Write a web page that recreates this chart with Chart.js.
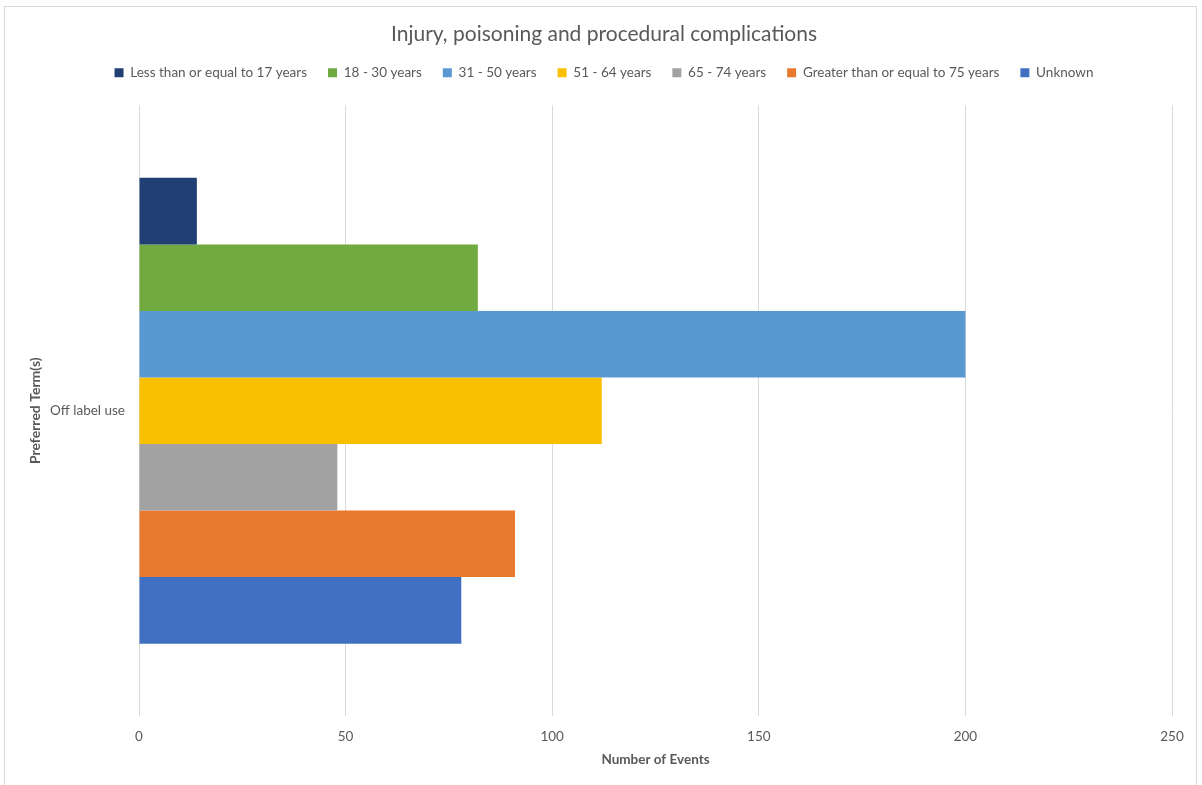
<!DOCTYPE html>
<html>
<head>
<meta charset="utf-8">
<script src="https://cdn.jsdelivr.net/npm/chart.js@4/dist/chart.umd.min.js"></script>
<style>
  html, body { margin: 0; padding: 0; background: #fff; }
  #wrap { position: relative; width: 1202px; height: 785px; overflow: hidden; }
  #frame { position: absolute; left: 4px; top: 6px; width: 1193px; height: 800px; border: 1px solid #d9d9d9; box-sizing: border-box; }
  #myChart { position: absolute; left: 0; top: 0; }
</style>
</head>
<body>
<div id="wrap">
  <div id="frame"></div>
  <canvas id="myChart" width="1202" height="785"></canvas>
</div>
<script>
const categories = ["Off label use"];
const ageGroups = [
  "Less than or equal to 17 years",
  "18 - 30 years",
  "31 - 50 years",
  "51 - 64 years",
  "65 - 74 years",
  "Greater than or equal to 75 years",
  "Unknown"
];
const eventCounts = [14, 82, 200, 112, 48, 91, 78];
const colours = ["#213f73", "#70aa40", "#5a98d2", "#f8c000", "#a2a2a2", "#e8792f", "#4170c2"];
const xTicks = [0, 50, 100, 150, 200, 250];

const fontFam = "Lato, 'Liberation Sans', sans-serif";
const textGrey = "#595959";

const datasets = ageGroups.map((name, i) => {
  return {
    label: name,
    data: [eventCounts[i]],
    backgroundColor: colours[i],
    borderWidth: 0,
    categoryPercentage: 0.763,
    barPercentage: 1
  }
})

// push the plot area down a bit below the legend, like the excel original
const legendGap = {
  id: 'legendGap',
  beforeUpdate(chart) {
    const lg = chart.legend;
    if (lg && !lg._gapDone) {
      const fit = lg.fit;
      lg.fit = function () {
        fit.call(this);
        this.height += 16;
      }
      lg._gapDone = true;
    }
  }
}

new Chart(document.getElementById('myChart'), {
  type: 'bar',
  data: {
    labels: categories,
    datasets: datasets
  },
  plugins: [legendGap],
  options: {
    indexAxis: 'y',
    responsive: false,
    animation: false,
    layout: { padding: { left: 27, right: 21, top: 0, bottom: 0 } },
    plugins: {
      title: {
        display: true,
        text: "Injury, poisoning and procedural complications",
        color: textGrey,
        font: { family: fontFam, size: 21, weight: 'normal', lineHeight: 1 },
        padding: { top: 24, bottom: 0 }
      },
      legend: {
        position: 'top',
        labels: {
          color: textGrey,
          font: { family: fontFam, size: 13.5 },
          boxWidth: 9,
          boxHeight: 9,
          padding: 21
        }
      },
      tooltip: { enabled: false }
    },
    scales: {
      x: {
        min: 0,
        max: 250,
        afterBuildTicks: (axis) => { axis.ticks = xTicks.map(v => ({ value: v })) },
        afterFit: (axis) => { axis.height = 69 },
        grid: { color: "#d9d9d9", drawTicks: false },
        border: { display: false },
        ticks: { color: textGrey, font: { family: fontFam, size: 13.5 }, padding: 13 },
        title: {
          display: true,
          text: "Number of Events",
          color: textGrey,
          font: { family: fontFam, size: 13.5, weight: 'bold' },
          padding: { top: 0, bottom: 17 }
        }
      },
      y: {
        afterFit: (axis) => { axis.width = 112 },
        grid: { display: false },
        border: { display: false },
        ticks: { color: textGrey, font: { family: fontFam, size: 13.5 }, padding: 6 },
        title: {
          display: true,
          text: "Preferred Term(s)",
          color: textGrey,
          font: { family: fontFam, size: 14, weight: 'bold' },
          padding: { top: 0, bottom: 0 }
        }
      },
      yRight: {
        type: 'linear',
        position: 'right',
        afterFit: (axis) => { axis.width = 9 },
        grid: { display: false },
        border: { display: false },
        ticks: { display: false }
      }
    }
  }
});
</script>
</body>
</html>
